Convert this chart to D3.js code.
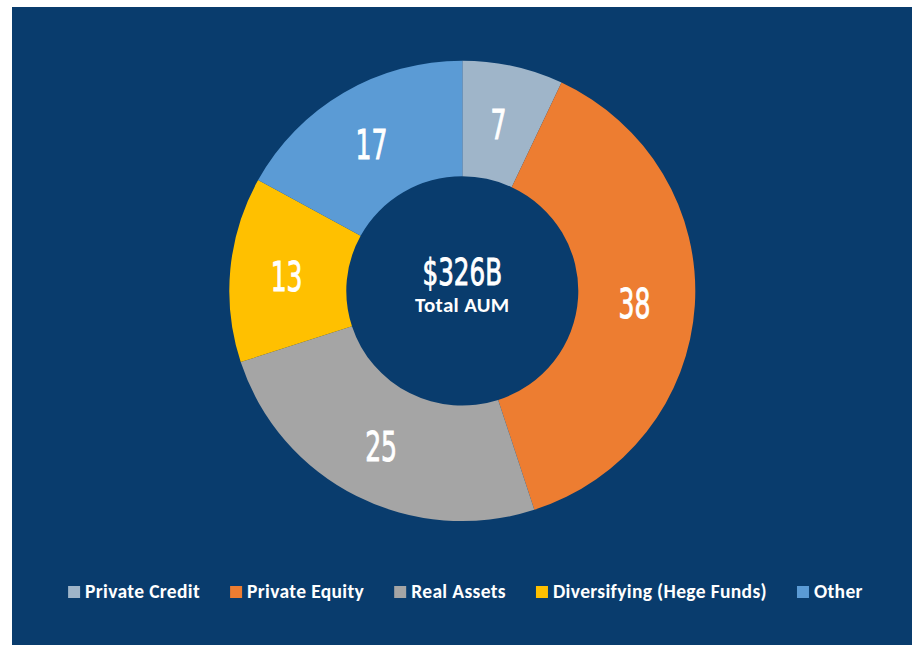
<!DOCTYPE html>
<html>
<head>
<meta charset="utf-8">
<script src="https://cdn.jsdelivr.net/npm/d3@7"></script>
<style>
  html, body { margin: 0; padding: 0; background: #ffffff; }
  svg { display: block; }
</style>
</head>
<body>
<svg id="chart" width="912" height="645"></svg>
<script>
const categories = ["Private Credit", "Private Equity", "Real Assets", "Diversifying (Hege Funds)", "Other"];
const values = [7, 38, 25, 13, 17];
const colors = ["#9fb5c9", "#ed7d31", "#a5a5a5", "#ffc000", "#5b9bd5"];
const centerTitle = "$326B";
const centerSub = "Total AUM";

const svg = d3.select("#chart");
const W = 912, H = 645;
const bg = "#093c6d";

svg.append("rect").attr("x", 12).attr("y", 7).attr("width", W - 12).attr("height", H - 7).attr("fill", bg);

const cx = 462.3, cy = 290.9;
const outerR = 233, innerR = 116;

const data = categories.map((c, i) => ({ name: c, value: values[i], color: colors[i] }));
const pie = d3.pie().value(d => d.value).sort(null);
const arc = d3.arc().innerRadius(innerR).outerRadius(outerR);
const labelArc = d3.arc().innerRadius((innerR + outerR) / 2).outerRadius((innerR + outerR) / 2);

const g = svg.append("g").attr("transform", `translate(${cx},${cy}) scale(1,0.988)`);
const arcs = pie(data);
g.selectAll("path.slice").data(arcs).join("path")
  .attr("class", "slice")
  .attr("d", arc)
  .attr("fill", d => d.data.color);

const condensed = "'DejaVu Sans Condensed', 'Liberation Sans Narrow', sans-serif";

g.selectAll("text.val").data(arcs).join("text")
  .attr("class", "val")
  .attr("transform", d => { const [x, y] = labelArc.centroid(d); return `translate(${x - 2},${y + 2}) scale(0.68,1)`; })
  .attr("text-anchor", "middle")
  .attr("dy", "0.36em")
  .attr("fill", "#ffffff")
  .attr("stroke", "#ffffff")
  .attr("stroke-width", 0.9)
  .style("font-family", condensed)
  .style("font-size", "41px")
  .text(d => d.data.value);

// center text
svg.append("text")
  .attr("transform", `translate(${cx},285) scale(0.74,1)`)
  .attr("text-anchor", "middle")
  .attr("fill", "#ffffff")
  .attr("stroke", "#ffffff")
  .attr("stroke-width", 0.9)
  .style("font-family", condensed)
  .style("font-size", "37px")
  .text(centerTitle);

svg.append("text")
  .attr("x", cx).attr("y", 312.3)
  .attr("text-anchor", "middle")
  .attr("fill", "#ffffff")
  .style("font-family", "Carlito, Lato, sans-serif")
  .style("font-weight", "bold")
  .style("font-size", "21px")
  .style("letter-spacing", "0.3px")
  .text(centerSub);

// legend
const legend = svg.append("g");
const items = legend.selectAll("g.item").data(data).join("g").attr("class", "item");
items.append("rect").attr("width", 12).attr("height", 12).attr("y", 586).attr("fill", d => d.color);
items.append("text")
  .attr("y", 597.7)
  .attr("fill", "#ffffff")
  .style("font-family", "Carlito, Lato, sans-serif")
  .style("font-weight", "bold")
  .style("font-size", "19.5px")
  .style("letter-spacing", "0.35px")
  .text(d => d.name);

const widths = [];
items.select("text").each(function () { widths.push(this.getComputedTextLength()); });
const sq = 12, sqGap = 5, gap = 30;
const total = d3.sum(widths) + widths.length * (sq + sqGap) + (widths.length - 1) * gap;
let xPos = 465.5 - total / 2;
items.each(function (d, i) {
  const it = d3.select(this);
  it.select("rect").attr("x", xPos);
  it.select("text").attr("x", xPos + sq + sqGap);
  xPos += sq + sqGap + widths[i] + gap;
});
</script>
</body>
</html>
